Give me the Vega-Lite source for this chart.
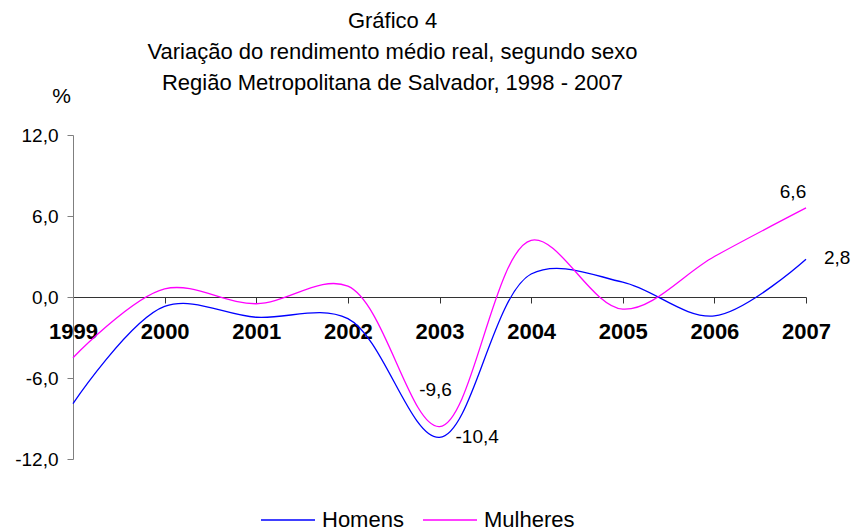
{
  "$schema": "https://vega.github.io/schema/vega-lite/v6.json",
  "width": 733,
  "height": 324,
  "autosize": {"type": "none"},
  "padding": {"left": 73, "top": 135, "right": 48, "bottom": 72},
  "background": "white",
  "config": {
    "view": {"stroke": null},
    "font": "Liberation Sans",
    "locale": {"number": {"decimal": ",", "thousands": ".", "grouping": [3], "currency": ["R$", ""], "minus": "-"}}
  },
  "title": {
    "text": ["Gráfico 4", "Variação do rendimento médio real, segundo sexo", "Região Metropolitana de Salvador, 1998 - 2007"],
    "font": "Liberation Sans",
    "fontSize": 22,
    "fontWeight": "normal",
    "color": "black",
    "lineHeight": 31,
    "anchor": "middle",
    "frame": "group",
    "dx": -47,
    "dy": 30,
    "offset": 20
  },
  "data": {
    "values": [
      {"ano": "1999", "sexo": "Homens", "valor": -7.9},
      {"ano": "2000", "sexo": "Homens", "valor": -0.7},
      {"ano": "2001", "sexo": "Homens", "valor": -1.5},
      {"ano": "2002", "sexo": "Homens", "valor": -1.6},
      {"ano": "2003", "sexo": "Homens", "valor": -10.4},
      {"ano": "2004", "sexo": "Homens", "valor": 1.7},
      {"ano": "2005", "sexo": "Homens", "valor": 1.1},
      {"ano": "2006", "sexo": "Homens", "valor": -1.4},
      {"ano": "2007", "sexo": "Homens", "valor": 2.8},
      {"ano": "1999", "sexo": "Mulheres", "valor": -4.5},
      {"ano": "2000", "sexo": "Mulheres", "valor": 0.6},
      {"ano": "2001", "sexo": "Mulheres", "valor": -0.5},
      {"ano": "2002", "sexo": "Mulheres", "valor": 0.8},
      {"ano": "2003", "sexo": "Mulheres", "valor": -9.6},
      {"ano": "2004", "sexo": "Mulheres", "valor": 4.2},
      {"ano": "2005", "sexo": "Mulheres", "valor": -0.9},
      {"ano": "2006", "sexo": "Mulheres", "valor": 3.0},
      {"ano": "2007", "sexo": "Mulheres", "valor": 6.6}
    ]
  },
  "encoding": {
    "x": {
      "field": "ano", "type": "ordinal",
      "scale": {"type": "point", "padding": 0},
      "axis": {
        "title": null, "orient": "bottom", "offset": -162,
        "labelAngle": 0, "labelFont": "Liberation Sans", "labelFontSize": 22, "labelFontWeight": "bold",
        "labelColor": "black", "labelPadding": 18,
        "domainColor": "#333333", "tickColor": "#333333", "tickSize": 6, "domainWidth": 1, "tickWidth": 1,
        "grid": false
      }
    },
    "y": {
      "field": "valor", "type": "quantitative",
      "scale": {"domain": [-12, 12], "nice": false},
      "axis": {
        "values": [-12, -6, 0, 6, 12],
        "format": ".1f",
        "labelFont": "Liberation Sans", "labelFontSize": 19, "labelColor": "black", "labelPadding": 9,
        "domainColor": "#7f7f7f", "tickColor": "#7f7f7f", "tickSize": 6, "grid": false,
        "title": "%", "titleAngle": 0, "titleFont": "Liberation Sans", "titleFontSize": 21, "titleFontWeight": "normal",
        "titleColor": "black", "titleX": -12, "titleY": -39, "titleAlign": "center", "titleBaseline": "middle"
      }
    }
  },
  "layer": [
    {
      "mark": {"type": "line", "interpolate": "catmull-rom", "strokeWidth": 1.3},
      "encoding": {
        "color": {
          "field": "sexo", "type": "nominal",
          "scale": {"domain": ["Homens", "Mulheres"], "range": ["#0000ff", "#ff00ff"]},
          "legend": {
            "title": null, "orient": "none", "direction": "horizontal",
            "legendX": 187, "legendY": 357,
            "symbolType": "stroke", "symbolSize": 2916, "symbolStrokeWidth": 1.5,
            "labelFont": "Liberation Sans", "labelFontSize": 22, "labelColor": "black",
            "labelOffset": 6, "columnPadding": 16
          }
        }
      }
    },
    {
      "transform": [{"filter": "datum.sexo == 'Mulheres' && datum.ano == '2007'"}],
      "mark": {"type": "text", "fontSize": 19, "color": "black", "dx": -13, "dy": -16, "align": "center", "baseline": "middle"},
      "encoding": {"text": {"field": "valor", "type": "quantitative", "format": ".1f"}}
    },
    {
      "transform": [{"filter": "datum.sexo == 'Homens' && datum.ano == '2007'"}],
      "mark": {"type": "text", "fontSize": 19, "color": "black", "dx": 18, "dy": -1, "align": "left", "baseline": "middle"},
      "encoding": {"text": {"field": "valor", "type": "quantitative", "format": ".1f"}}
    },
    {
      "transform": [{"filter": "datum.sexo == 'Mulheres' && datum.ano == '2003'"}],
      "mark": {"type": "text", "fontSize": 19, "color": "black", "dx": -4, "dy": -37, "align": "center", "baseline": "middle"},
      "encoding": {"text": {"field": "valor", "type": "quantitative", "format": ".1f"}}
    },
    {
      "transform": [{"filter": "datum.sexo == 'Homens' && datum.ano == '2003'"}],
      "mark": {"type": "text", "fontSize": 19, "color": "black", "dx": 16, "dy": 0, "align": "left", "baseline": "middle"},
      "encoding": {"text": {"field": "valor", "type": "quantitative", "format": ".1f"}}
    }
  ]
}
